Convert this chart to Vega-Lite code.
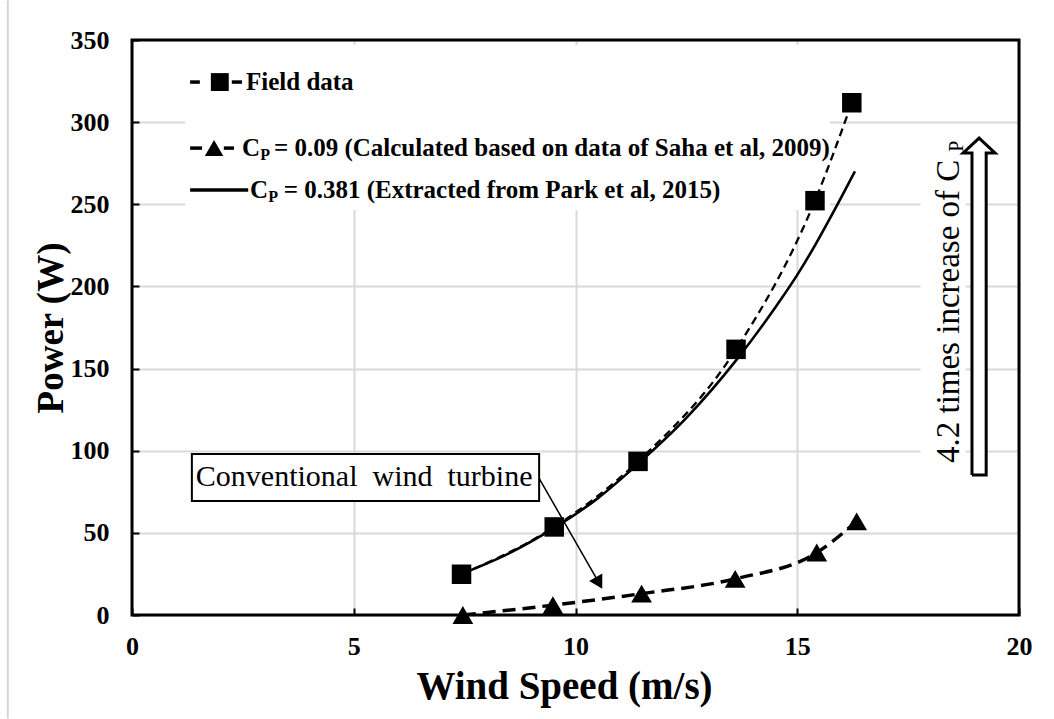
{
  "$schema": "https://vega.github.io/schema/vega-lite/v6.json",
  "width": 887,
  "height": 575,
  "autosize": {"type": "none"},
  "padding": {"left": 132, "top": 40, "right": 35, "bottom": 104},
  "background": "white",
  "config": {"view": {"stroke": null}, "font": "Liberation Serif"},
  "datasets": {
    "field": [
      {"x": 7.43, "y": 24.8}, {"x": 9.52, "y": 53.6}, {"x": 11.41, "y": 93.5},
      {"x": 13.62, "y": 161.7}, {"x": 15.4, "y": 252.2}, {"x": 16.23, "y": 311.8}
    ],
    "saha": [
      {"x": 7.46, "y": 0}, {"x": 9.49, "y": 6}, {"x": 11.49, "y": 13},
      {"x": 13.6, "y": 22}, {"x": 15.44, "y": 38}, {"x": 16.34, "y": 57}
    ],
    "park": [
      {"x": 7.43, "y": 25}, {"x": 8.5, "y": 37.5}, {"x": 9.52, "y": 53}, {"x": 10.5, "y": 71},
      {"x": 11.41, "y": 92}, {"x": 12.5, "y": 120}, {"x": 13.62, "y": 155}, {"x": 14.5, "y": 187},
      {"x": 15.0, "y": 207}, {"x": 15.4, "y": 225}, {"x": 15.85, "y": 247}, {"x": 16.3, "y": 270}
    ],
    "legbg": [{"x": 1.2, "x2": 15.74, "y": 347, "y2": 246.5}],
    "whitebg": [
      {"x": 17.78, "x2": 18.8, "y": 85, "y2": 290},
      {"x": 18.94, "x2": 19.26, "y": 85.2, "y2": 281.2}
    ],
    "legrule": [
      {"x": 1.31, "x2": 1.53, "y": 324.4}, {"x": 2.25, "x2": 2.48, "y": 324.4},
      {"x": 1.31, "x2": 1.58, "y": 284.2}, {"x": 2.07, "x2": 2.3, "y": 284.2},
      {"x": 1.31, "x2": 2.62, "y": 258.7}
    ],
    "legsq": [{"x": 1.98, "y": 324.4}],
    "legtri": [{"x": 1.85, "y": 284.2}],
    "legtext": [
      {"x": 2.57, "y": 324.4, "t": "Field data"},
      {"x": 2.48, "y": 284.2, "t": "C"},
      {"x": 3.2, "y": 284.2, "t": "= 0.09 (Calculated based on data of Saha et al, 2009)"},
      {"x": 2.66, "y": 258.7, "t": "C"},
      {"x": 3.42, "y": 258.7, "t": "= 0.381 (Extracted from Park et al, 2015)"}
    ],
    "legsub": [
      {"x": 2.89, "y": 284.2, "t": "P"},
      {"x": 3.07, "y": 258.7, "t": "P"}
    ],
    "box": [{"x": 1.35, "x2": 9.18, "y": 69.4, "y2": 98}],
    "boxtext": [{"x": 1.44, "y": 84, "t": "Conventional\u00a0 wind\u00a0 turbine"}],
    "arrowline": [{"x": 9.18, "y": 83.2, "x2": 10.53, "y2": 19.5}],
    "arrowhead": [{"x": 10.53, "y": 19.5}],
    "varrow": [
      {"x": 18.94, "y": 85.2, "o": 1}, {"x": 18.94, "y": 281.2, "o": 2}, {"x": 18.74, "y": 281.2, "o": 3},
      {"x": 19.10, "y": 290.3, "o": 4}, {"x": 19.46, "y": 281.2, "o": 5}, {"x": 19.26, "y": 281.2, "o": 6},
      {"x": 19.26, "y": 85.2, "o": 7}, {"x": 18.94, "y": 85.2, "o": 8}
    ],
    "vtext": [{"x": 18.64, "y": 92.5, "t": "4.2 times increase of C"}],
    "vsub": [{"x": 18.64, "y": 282, "t": "P"}],
    "border": [{"x": -2.8, "y": 374, "y2": -63}],
    "frame": [{"x": 0, "x2": 20, "y": 0, "y2": 350}]
  },
  "layer": [
    {
      "data": {"name": "legbg"},
      "mark": {"type": "rect", "fill": "white", "stroke": null},
      "encoding": {
        "x": {
          "field": "x", "type": "quantitative",
          "scale": {"domain": [0, 20], "nice": false, "zero": false},
          "axis": {
            "values": [0, 5, 10, 15, 20], "title": "Wind Speed (m/s)",
            "grid": true, "gridColor": "#d9d9d9", "gridWidth": 2,
            "domain": false, "tickColor": "black", "tickWidth": 2, "tickSize": -7,
            "labelFont": "Liberation Serif", "labelFontSize": 26, "labelFontWeight": "bold",
            "labelColor": "black", "labelPadding": 25, "labelFlush": false,
            "titleFont": "Liberation Serif", "titleFontSize": 39, "titleFontWeight": "bold",
            "titleColor": "black", "titlePadding": 8, "titleX": 432
          }
        },
        "x2": {"field": "x2"},
        "y": {
          "field": "y", "type": "quantitative",
          "scale": {"domain": [0, 350], "nice": false},
          "axis": {
            "values": [0, 50, 100, 150, 200, 250, 300, 350], "title": "Power (W)",
            "grid": true, "gridColor": "#d9d9d9", "gridWidth": 2,
            "domain": false, "tickColor": "black", "tickWidth": 2, "tickSize": -7,
            "labelFont": "Liberation Serif", "labelFontSize": 26, "labelFontWeight": "bold",
            "labelColor": "black", "labelPadding": 30,
            "titleFont": "Liberation Serif", "titleFontSize": 37, "titleFontWeight": "bold",
            "titleColor": "black", "titlePadding": 0
          }
        },
        "y2": {"field": "y2"}
      }
    },
    {
      "data": {"name": "whitebg"},
      "mark": {"type": "rect", "fill": "white"},
      "encoding": {
        "x": {"field": "x", "type": "quantitative"}, "x2": {"field": "x2"},
        "y": {"field": "y", "type": "quantitative"}, "y2": {"field": "y2"}
      }
    },
    {
      "data": {"name": "border"},
      "mark": {"type": "rule", "color": "#d4d4d4", "strokeWidth": 2},
      "encoding": {
        "x": {"field": "x", "type": "quantitative"},
        "y": {"field": "y", "type": "quantitative"}, "y2": {"field": "y2"}
      }
    },
    {
      "data": {"name": "park"},
      "mark": {"type": "line", "color": "black", "strokeWidth": 2.6, "interpolate": "monotone"},
      "encoding": {"x": {"field": "x", "type": "quantitative"}, "y": {"field": "y", "type": "quantitative"}}
    },
    {
      "data": {"name": "field"},
      "mark": {"type": "line", "color": "black", "strokeWidth": 2.3, "strokeDash": [8, 5], "interpolate": "monotone"},
      "encoding": {"x": {"field": "x", "type": "quantitative"}, "y": {"field": "y", "type": "quantitative"}}
    },
    {
      "data": {"name": "saha"},
      "mark": {"type": "line", "color": "black", "strokeWidth": 3.5, "strokeDash": [13, 7], "interpolate": "monotone"},
      "encoding": {"x": {"field": "x", "type": "quantitative"}, "y": {"field": "y", "type": "quantitative"}}
    },
    {
      "data": {"name": "field"},
      "mark": {"type": "point", "shape": "square", "filled": true, "color": "black", "size": 380, "opacity": 1},
      "encoding": {"x": {"field": "x", "type": "quantitative"}, "y": {"field": "y", "type": "quantitative"}}
    },
    {
      "data": {"name": "saha"},
      "mark": {"type": "point", "shape": "triangle-up", "filled": true, "color": "black", "size": 430, "opacity": 1},
      "encoding": {"x": {"field": "x", "type": "quantitative"}, "y": {"field": "y", "type": "quantitative"}}
    },
    {
      "data": {"name": "legrule"},
      "mark": {"type": "rule", "color": "black", "strokeWidth": 3.5},
      "encoding": {
        "x": {"field": "x", "type": "quantitative"}, "x2": {"field": "x2"},
        "y": {"field": "y", "type": "quantitative"}
      }
    },
    {
      "data": {"name": "legsq"},
      "mark": {"type": "point", "shape": "square", "filled": true, "color": "black", "size": 320, "opacity": 1},
      "encoding": {"x": {"field": "x", "type": "quantitative"}, "y": {"field": "y", "type": "quantitative"}}
    },
    {
      "data": {"name": "legtri"},
      "mark": {"type": "point", "shape": "triangle-up", "filled": true, "color": "black", "size": 340, "opacity": 1},
      "encoding": {"x": {"field": "x", "type": "quantitative"}, "y": {"field": "y", "type": "quantitative"}}
    },
    {
      "data": {"name": "legtext"},
      "mark": {"type": "text", "font": "Liberation Serif", "fontSize": 25, "fontWeight": "bold", "color": "black", "align": "left", "baseline": "middle"},
      "encoding": {
        "x": {"field": "x", "type": "quantitative"}, "y": {"field": "y", "type": "quantitative"},
        "text": {"field": "t"}
      }
    },
    {
      "data": {"name": "legsub"},
      "mark": {"type": "text", "font": "Liberation Serif", "fontSize": 16, "fontWeight": "bold", "color": "black", "align": "left", "baseline": "middle", "dy": 7},
      "encoding": {
        "x": {"field": "x", "type": "quantitative"}, "y": {"field": "y", "type": "quantitative"},
        "text": {"field": "t"}
      }
    },
    {
      "data": {"name": "arrowline"},
      "mark": {"type": "rule", "color": "black", "strokeWidth": 1.5},
      "encoding": {
        "x": {"field": "x", "type": "quantitative"}, "x2": {"field": "x2"},
        "y": {"field": "y", "type": "quantitative"}, "y2": {"field": "y2"}
      }
    },
    {
      "data": {"name": "arrowhead"},
      "mark": {"type": "point", "shape": "triangle-down", "filled": true, "color": "black", "size": 230, "angle": 330, "opacity": 1},
      "encoding": {"x": {"field": "x", "type": "quantitative"}, "y": {"field": "y", "type": "quantitative"}}
    },
    {
      "data": {"name": "box"},
      "mark": {"type": "rect", "fill": "white", "stroke": "black", "strokeWidth": 2},
      "encoding": {
        "x": {"field": "x", "type": "quantitative"}, "x2": {"field": "x2"},
        "y": {"field": "y", "type": "quantitative"}, "y2": {"field": "y2"}
      }
    },
    {
      "data": {"name": "boxtext"},
      "mark": {"type": "text", "font": "Liberation Serif", "fontSize": 30, "color": "black", "align": "left", "baseline": "middle"},
      "encoding": {
        "x": {"field": "x", "type": "quantitative"}, "y": {"field": "y", "type": "quantitative"},
        "text": {"field": "t"}
      }
    },
    {
      "data": {"name": "varrow"},
      "mark": {"type": "line", "color": "black", "strokeWidth": 3, "strokeJoin": "miter"},
      "encoding": {
        "x": {"field": "x", "type": "quantitative"}, "y": {"field": "y", "type": "quantitative"},
        "order": {"field": "o", "type": "quantitative"}
      }
    },
    {
      "data": {"name": "vtext"},
      "mark": {"type": "text", "font": "Liberation Serif", "fontSize": 33, "color": "black", "align": "left", "baseline": "alphabetic", "angle": 270},
      "encoding": {
        "x": {"field": "x", "type": "quantitative"}, "y": {"field": "y", "type": "quantitative"},
        "text": {"field": "t"}
      }
    },
    {
      "data": {"name": "vsub"},
      "mark": {"type": "text", "font": "Liberation Serif", "fontSize": 20, "color": "black", "align": "left", "baseline": "alphabetic", "angle": 270, "dy": 4},
      "encoding": {
        "x": {"field": "x", "type": "quantitative"}, "y": {"field": "y", "type": "quantitative"},
        "text": {"field": "t"}
      }
    },
    {
      "data": {"name": "frame"},
      "mark": {"type": "rect", "fill": null, "filled": false, "stroke": "black", "strokeWidth": 3},
      "encoding": {
        "x": {"field": "x", "type": "quantitative"}, "x2": {"field": "x2"},
        "y": {"field": "y", "type": "quantitative"}, "y2": {"field": "y2"}
      }
    }
  ]
}
